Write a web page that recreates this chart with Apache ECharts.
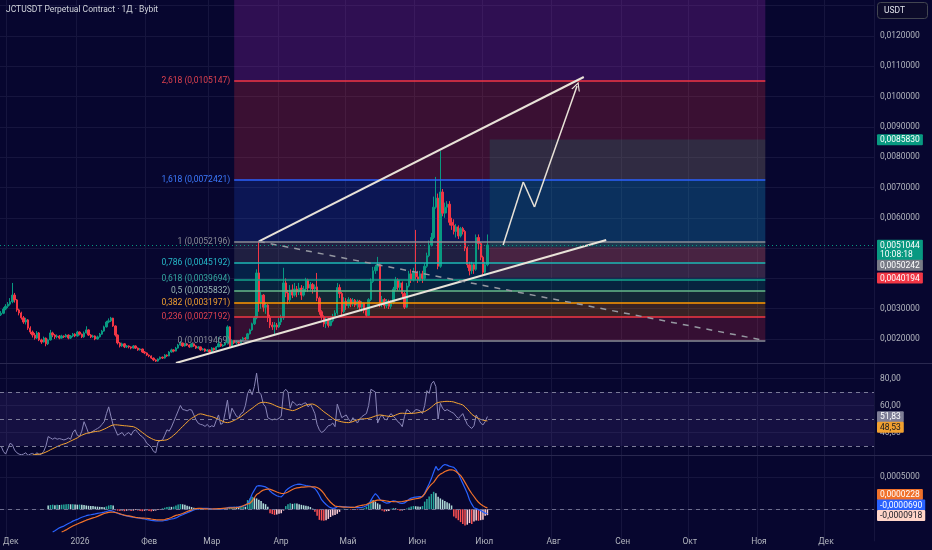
<!DOCTYPE html>
<html><head><meta charset="utf-8">
<script src="https://cdn.jsdelivr.net/npm/echarts@6/dist/echarts.min.js"></script>
<style>html,body{margin:0;padding:0;background:#07062f;}#c{width:932px;height:550px;}</style>
</head><body><div id="c"></div>
<script>
// ---- DATA (prices in micro-USDT, 1e-6) ----
const startDate = [2025, 10, 28]; // 2025-11-28
const dayCount = 390;
const opens = [
2800,2850,2990,3080,3150,3230,3450,3290,2960,2860,
2700,2560,2630,2360,2230,2130,2030,2200,1970,1900,
2030,1840,1970,2200,2130,2070,2100,2030,2100,2070,
2130,2030,2100,2160,2100,2230,2160,2070,2200,2300,
2130,2070,2100,2000,2070,2160,2260,2400,2560,2600,
2690,2430,2130,1870,1770,1840,1740,1770,1740,1700,
1770,1700,1640,1670,1570,1540,1470,1440,1370,1310,
1270,1340,1400,1370,1470,1440,1570,1640,1600,1700,
1800,1870,1770,1840,1800,1740,1840,1770,1700,1740,
1640,1670,1600,1640,1570,1700,1640,1740,1840,1770,
1800,1870,2400,1770,1950,1870,1900,1870,1970,2030,
2000,2170,2300,2500,2700,4180,3200,3450,3050,3120,
2700,2460,2400,2460,2400,2560,2700,3850,3520,3290,
3620,3450,3650,3550,3680,3450,3650,3950,3680,3800,
3650,3720,3350,2900,2730,2500,2650,2450,2600,2750,
2860,3700,3500,2900,3250,3100,3300,3150,3280,3120,
3250,3050,3180,2950,2780,3300,3900,4250,4380,4450,
3150,3300,3100,3250,3080,3200,3650,3950,3700,3850,
3500,3050,3750,4150,3950,4200,4050,3950,4150,4000,
4400,4750,5100,5350,6350,6650,4400,6850,6150,6350,
6450,5850,5750,5550,5700,5400,5650,5550,5000,4450,
4250,4450,4300,5350,5150,4700,4200,4450];
const closes = [
2850,2990,3080,3150,3230,3450,3290,2960,2860,2700,
2560,2630,2360,2230,2130,2030,2200,1970,1900,2030,
1840,1970,2200,2130,2070,2100,2030,2100,2070,2130,
2030,2100,2160,2100,2230,2160,2070,2200,2300,2130,
2070,2100,2000,2070,2160,2260,2400,2560,2600,2690,
2430,2130,1870,1770,1840,1740,1770,1740,1700,1770,
1700,1640,1670,1570,1540,1470,1440,1370,1310,1270,
1340,1400,1370,1470,1440,1570,1640,1600,1700,1800,
1870,1770,1840,1800,1740,1840,1770,1700,1740,1640,
1670,1600,1640,1570,1700,1640,1740,1840,1770,1800,
1870,2400,1770,1950,1870,1900,1870,1970,2030,2000,
2170,2300,2500,2700,4180,3200,3450,3050,3120,2700,
2460,2400,2460,2400,2560,2700,3850,3520,3290,3620,
3450,3650,3550,3680,3450,3650,3950,3680,3800,3650,
3720,3350,2900,2730,2500,2650,2450,2600,2750,2860,
3700,3500,2900,3250,3100,3300,3150,3280,3120,3250,
3050,3180,2950,2780,3300,3900,4250,4380,4450,3150,
3300,3100,3250,3080,3200,3650,3950,3700,3850,3500,
3050,3750,4150,3950,4200,4050,3950,4150,4000,4400,
4750,5100,5350,6350,6650,4400,6850,6150,6350,6450,
5850,5750,5550,5700,5400,5650,5550,5000,4450,4250,
4450,4300,5350,5150,4700,4200,4450,5104.4];
const lows = [
2760,2820,2950,3020,3100,3180,3200,2900,2780,2640,
2500,2480,2300,2160,2050,1980,2000,1930,1840,1880,
1760,1800,1950,2060,2000,2020,1990,2010,2030,2050,
1990,2000,2060,2060,2080,2120,2030,2040,2180,2100,
2030,2040,1960,1980,2050,2140,2240,2380,2520,2560,
2400,2080,1820,1720,1740,1700,1700,1690,1660,1680,
1670,1610,1620,1540,1500,1440,1400,1340,1270,1240,
1250,1320,1340,1350,1410,1430,1550,1560,1590,1680,
1780,1740,1750,1770,1710,1730,1740,1670,1680,1610,
1620,1570,1580,1540,1560,1610,1630,1730,1740,1740,
1780,1850,1720,1740,1830,1830,1820,1850,1940,1960,
1990,2150,2270,2460,2650,2900,3000,2900,2830,2560,
2360,2300,2130,2300,2360,2460,2630,3380,3150,3220,
3350,3400,3380,3450,3290,3400,3550,3550,3600,3500,
3550,3250,2800,2630,2400,2360,2380,2420,2550,2700,
2800,3350,2730,2850,2960,3020,3050,3080,3050,3000,
2950,2900,2850,2730,2760,3250,3850,4150,4250,3050,
3050,3000,3020,2990,3000,3150,3600,3600,3620,3350,
2990,3020,3700,3850,3900,3950,3850,3900,3850,3950,
4350,4700,5050,5300,6300,4300,4350,6050,6000,6150,
5750,5600,5450,5350,5300,5350,5450,4900,4350,4100,
4150,4150,4250,4950,4600,4100,4150,4400];
const highs = [
2920,3050,3150,3220,3350,3850,3520,3320,3000,2900,
2760,2700,2660,2420,2280,2200,2260,2230,2010,2080,
2050,2010,2300,2240,2160,2150,2130,2140,2120,2170,
2150,2130,2200,2190,2270,2250,2180,2250,2420,2320,
2160,2140,2120,2110,2200,2300,2440,2600,2680,2730,
2700,2450,2150,1900,1880,1860,1800,1790,1760,1800,
1790,1720,1700,1680,1600,1560,1490,1460,1390,1330,
1360,1420,1420,1500,1490,1600,1680,1660,1740,1840,
1930,1880,1870,1860,1820,1870,1850,1790,1770,1750,
1700,1690,1670,1650,1730,1710,1770,2060,1860,1830,
1900,2450,2420,1990,1970,1940,1930,2000,2070,2060,
2200,2340,2540,2760,4300,5220,3550,3480,3200,3150,
2800,2560,2560,2530,2700,2800,4350,4000,3620,3780,
3800,3850,3750,3850,3780,3750,4020,3990,3880,3850,
3800,4180,3400,2950,2780,2720,2700,2680,2830,2950,
3850,3800,3550,3380,3350,3380,3350,3350,3320,3300,
3290,3250,3200,3000,3350,4000,4380,4450,4710,4500,
3420,3350,3320,3300,3280,3720,4050,4000,3950,3900,
3550,3850,4250,4300,4350,5600,4250,4250,4250,4500,
4850,5250,5500,6700,7350,6800,8200,6950,6500,6550,
6550,6000,5950,5800,5750,5700,5700,5600,5050,4550,
4550,4500,5450,5450,5200,4750,4550,5450];

// RSI(14) and its MA
const rsi = [
30,26,24,28,32,31,27,25,24,23.5,
24,25,23,24,24.5,23.5,25,23.5,24,26,
30,37,36,35,36,35,35.5,35,34.5,35,
36,35,40,42,38,37,41,48,44,39.5,
40,41,42,43,44,46,48,54,59,52,
45.6,42,38,39,40,37.5,39,40,38,41,
42,40,38,36.9,35,32,30.7,29,26,25,
33,34,34.4,38,42,41,44,48,52,56,
60,57,56.7,56,57,56.7,53,49.3,46.8,46,
45.6,44.5,46,44,45,44.3,49,53,46,47,
55,64,50,58,55,52,51,54,55,60,
69,72,68,74,84,70,68,61,59,51,
50,49.3,50,49.5,50.5,52,70,72,70,58,
63,61.6,60,61,60.5,61.6,62,59,61,57.9,
54,46,42,40,41,43,45,45.5,47,44.3,
61,56,51,52,53,50,48,51,49,47,
50,51.8,53,54,60,72,71,70,47,51,
53,50,49.3,52,54,52,50.5,48,46.8,44.3,
52,57,56,54,55,57,56.7,56,54,60,
71,69,76,78,74,50,61.6,58,56,57,
56,55,54.2,52,50.5,52,54,50,46,44.3,
43,45,53,50,47,45.6,48,51.83];
const rsiMaStart = 14;
const rsiMa = [
23.3,23.5,23.8,24,24.3,24.8,
25.5,26.3,27.2,28,28.8,29.6,30.3,31,31.5,32,
32.8,33.6,34.4,35.2,36,37.2,38,38.7,39.3,39.7,
40,40.4,40.7,40.9,41.1,41.8,42.5,43.3,44.2,45,
45.6,45.7,45.6,45.4,45.2,45,44.9,44.7,44.5,44.3,
43.6,42.6,41.3,40,38.8,37.5,36.5,35.6,34.8,34.2,
34,34,34.1,34.3,34.6,35.5,36.6,38,39.4,41,
42.8,44.5,46,47.8,49.3,50.5,51.5,52.5,53.5,53.8,
53.5,53,52.5,52.2,51.8,51.2,50.5,49.8,49,48.2,
47.5,47.3,47.6,48.2,49,49.8,50.7,51.7,53,54.2,
55.5,56.8,57.9,59.2,60.5,61.6,62.2,62.4,62.3,62,
61.6,61,60.2,59.4,58.8,58.3,57.9,57.4,57,56.6,
56.2,56.5,57.2,58,58.8,59.6,60.3,60.8,61,61.1,
60.5,59.5,58.2,56.8,55.4,54.2,53,51.8,50.5,49.3,
48.8,48.3,47.9,47.6,47.4,47.3,47.6,48.1,48.8,49.4,
49.8,50,50.1,50.3,50.5,51,51.6,52.2,52.7,53,
52.8,52.5,52.2,52,51.8,52.3,52.9,53.6,54.2,54.3,
54.2,54,54.1,54.2,54.2,54.4,54.7,55,55.2,55.5,
56.5,57.5,58.8,60.2,61.6,62.2,62.6,62.8,63,63.1,
63,62.9,62.6,62,61.5,61,60.4,59,57.3,55.5,
53.5,52.3,51.2,50.4,49.7,49.2,48.8,48.53];

// MACD (micro units)
const macdStart = 23;
const macd = [
-355,-335,-312,-290,-275,-262,-240,
-222,-205,-185,-170,-158,-140,-125,-112,-100,-90,
-85,-78,-72,-65,-58,-52,-45,-35,-22,-20,
-30,-48,-62,-75,-85,-95,-103,-110,-118,-124,
-130,-135,-139,-145,-152,-160,-166,-172,-176,-180,
-182,-183,-180,-175,-168,-160,-152,-145,-135,-118,
-98,-85,-68,-55,-40,-25,-10,3,8,12,
14,15,14,10,6,3,2,4,2,5,
12,25,30,32,30,33,38,45,52,62,
85,150,240,300,360,370,365,358,350,330,
285,255,230,212,200,195,230,290,320,345,
365,380,388,392,388,380,372,365,360,345,
325,280,220,150,110,75,45,25,15,18,
40,48,42,38,40,36,32,30,28,26,
25,30,40,55,80,140,200,245,210,155,
130,110,95,100,120,134,130,110,95,92,
100,125,155,175,185,190,195,198,196,250,
330,400,480,580,670,610,640,680,700,690,
675,665,655,620,560,480,405,330,250,150,
80,25,10,-5,-20,-40,-60,-69];
const signalStart = 27;
const signal = [
-355,-340,-322,
-300,-280,-262,-245,-230,-215,-200,-185,-170,-158,
-145,-133,-124,-110,-95,-80,-66,-55,-48,-45,
-46,-50,-58,-70,-82,-92,-98,-103,-110,-118,
-125,-130,-134,-137,-139,-140,-145,-152,-158,-162,
-165,-166,-165,-160,-150,-140,-128,-110,-95,-88,
-78,-65,-50,-35,-20,-8,2,12,15,14,
10,7,6,5,5,6,7,10,12,15,
18,20,21,21,23,26,32,40,55,70,
85,93,130,180,230,250,280,300,310,314,
314,300,285,270,258,250,247,255,270,290,
310,325,335,340,345,348,350,352,352,350,
350,340,320,290,250,196,150,110,80,51,
45,40,38,35,33,32,31,31,35,45,
55,62,68,75,93,105,120,135,144,144,
140,135,130,125,122,120,118,118,118,122,
128,135,142,150,158,165,170,178,200,240,
300,350,390,420,470,520,550,566,590,605,
615,618,610,590,560,530,480,420,360,300,
247,200,150,110,80,55,35,22.8];
const histStart = 21;
const hist = [
60,67,72,65,70,67,72,75,78,
82,78,80,76,72,74,70,68,60,55,
52,50,45,42,38,35,31,45,60,67,
60,-15,-21,-25,-18,-30,-22,-15,-28,-20,
-12,-18,-25,-30,-22,-16,-28,-33,-25,-20,
-12,-8,15,25,35,41,38,42,60,75,
82,78,70,55,45,35,25,15,8,5,
3,-3,2,-2,3,-4,-2,5,-3,3,
8,20,30,35,41,38,35,41,45,40,
144,170,196,185,170,150,130,93,80,40,
-62,-75,-88,-80,-70,-60,-20,50,80,93,
85,93,90,80,70,62,55,48,35,10,
-40,-100,-165,-175,-180,-170,-150,-120,-95,-88,
-70,-40,5,8,-5,6,-8,4,-6,-10,
-5,8,15,40,100,144,140,120,93,75,
-20,-36,-30,-25,10,20,15,-10,-21,-18,
-10,12,30,45,51,48,42,40,50,120,
160,200,240,273,250,196,170,150,130,110,
93,60,-113,-140,-170,-200,-230,-252,-240,-215,
-230,-190,-175,-180,-170,-165,-100,-91.8];

const fibLevels = [0, 0.236, 0.382, 0.5, 0.618, 0.786, 1, 1.618, 2.618, 3.618];
const fibPrices = [1946.9, 2719.2, 3197.1, 3583.2, 3969.4, 4519.2, 5219.6, 7242.1, 10514.7, 13787.4];
const fibVisibleLines = 9; // 3.618 is above the visible range
const fibStartIdx = 104, fibEndIdx = 341;
// Long position tool
const posStartIdx = 218, posEndIdx = 341;
const posEntry = 5024.2, posTarget = 8583.0, posStop = 4019.4;
// Drawings: [dayIndex, price]
const upperLine = [[115, 5220], [260, 10647]];
const lowerLine = [[78, 1209], [270, 5268]];
const dashedLine = [[115, 5220], [341, 1947]];
const arrowPath = [[224, 5103], [233, 7182], [238, 6357], [257, 10350]];
const countdown = '10:08:18';
const titleText = 'JCTUSDT Perpetual Contract · 1Д · Bybit';
const ruMonths = ['Янв','Фев','Мар','Апр','Май','Июн','Июл','Авг','Сен','Окт','Ноя','Дек'];

// ---- STYLE ----
const FONT = 'Roboto, "DejaVu Sans", sans-serif';
const FS = 8.5;
const BG = '#07062f';
const AXIS_TXT = '#b2b5be';
const GRIDC = '#16153e';
const fibLine = ['#8a8d96','#f23645','#ff9800','#66bb8a','#14a58c','#1cb8b4','#8a8d96','#2962ff','#f23645','#9c27b0'];
const fibLabel = ['#8a8d96','#e0424f','#f0a030','#9ab8b4','#34a7a0','#26b8c8','#8a8d96','#3d7bff','#e0424f','#9c27b0'];
const fibFill = [null,'rgba(242,54,69,0.2)','rgba(255,152,0,0.2)','rgba(76,175,80,0.2)','rgba(8,153,129,0.2)',
  'rgba(0,188,212,0.15)','rgba(120,123,134,0.22)','rgba(41,98,255,0.18)','rgba(242,54,69,0.22)','rgba(156,39,176,0.27)'];
const DRAW = '#e8e2d8';

// ---- BUILD ----
const cats = [];
const d0 = Date.UTC(startDate[0], startDate[1], startDate[2]);
for (let k = 0; k < dayCount; k++) cats.push(new Date(d0 + k * 86400000).toISOString().slice(0, 10));
const isMonthStart = (i, v) => v.slice(8) === '01';
const pad = (start, arr) => new Array(start).fill(null).concat(arr);
const fmtP = v => (v / 1e6).toFixed(7).replace('.', ',');
const fmtLevel = l => String(l).replace('.', ',');

const candles = opens.map((o, i) => [o, closes[i], lows[i], highs[i]]);

const areas = [];
for (let k = 0; k < fibPrices.length - 1; k++) {
  areas.push([{xAxis: cats[fibStartIdx], yAxis: fibPrices[k], itemStyle: {color: fibFill[k + 1]}},
              {xAxis: cats[fibEndIdx], yAxis: fibPrices[k + 1]}]);
}
areas.push([{xAxis: cats[posStartIdx], yAxis: posEntry, itemStyle: {color: 'rgba(8,153,129,0.2)'}},
            {xAxis: cats[posEndIdx], yAxis: posTarget}]);
areas.push([{xAxis: cats[posStartIdx], yAxis: posStop, itemStyle: {color: 'rgba(242,54,69,0.2)'}},
            {xAxis: cats[posEndIdx], yAxis: posEntry}]);

const lines = [];
fibPrices.slice(0, fibVisibleLines).forEach((p, k) => {
  lines.push([{coord: [cats[fibStartIdx], p], lineStyle: {color: fibLine[k], width: 1.5, type: 'solid'},
    label: {show: true, position: 'start', distance: 4, color: fibLabel[k], fontSize: FS, fontFamily: FONT,
      formatter: fmtLevel(fibLevels[k]) + ' (' + fmtP(p) + ')'}},
    {coord: [cats[fibEndIdx], p]}]);
});
const seg = (a, b, style, sym) => [{coord: [cats[a[0]], a[1]], lineStyle: style, symbol: 'none'},
  {coord: [cats[b[0]], b[1]], symbol: sym || 'none', symbolSize: [9, 9]}];
lines.push(seg(upperLine[0], upperLine[1], {color: DRAW, width: 2, type: 'solid'}));
lines.push(seg(lowerLine[0], lowerLine[1], {color: DRAW, width: 2, type: 'solid'}));
lines.push(seg(dashedLine[0], dashedLine[1], {color: '#9598a1', width: 1.5, type: [6, 6]}));
for (let k = 0; k < arrowPath.length - 1; k++) {
  const last = k === arrowPath.length - 2;
  lines.push(seg(arrowPath[k], arrowPath[k + 1], {color: DRAW, width: 1.5, type: 'solid'},
    last ? 'path://M0,10 L5,0 L10,10 L8.6,10 L5,2.8 L1.4,10 Z' : 'none'));
}
lines.push({yAxis: closes[closes.length - 1], lineStyle: {color: '#089981', width: 1, type: [1, 3]}, symbol: 'none'});

const histColor = p => {
  const i = p.dataIndex, v = p.value, prev = i > 0 ? hist[i - histStart - 1] : null;
  const pv = prev == null ? v : prev;
  if (v >= 0) return pv < v ? '#26a69a' : '#b2dfdb';
  return pv < v ? '#ffcdd2' : '#ff5252';
};

const chart = echarts.init(document.getElementById('c'), null, {width: 932, height: 550});
const xAxes = [0, 1, 2, 3].map(k => ({
  type: 'category', data: cats, gridIndex: k, boundaryGap: true,
  axisLine: {show: false}, axisTick: {show: false}, axisPointer: {show: false},
  axisLabel: k === 3 ? {show: true, interval: isMonthStart, color: AXIS_TXT, fontSize: FS, fontFamily: FONT, margin: 5,
    formatter: v => { const m = +v.slice(5, 7); return m === 1 ? v.slice(0, 4) : ruMonths[m - 1]; }} : {show: false},
  splitLine: k === 3 ? {show: false} : {show: true, interval: isMonthStart, lineStyle: {color: GRIDC, width: 1}}
}));
const yBase = {type: 'value', position: 'right', axisLine: {show: false}, axisTick: {show: false},
  splitLine: {show: true, showMinLine: false, showMaxLine: false, lineStyle: {color: GRIDC, width: 1}}};
const lblBase = {color: AXIS_TXT, fontSize: FS, fontFamily: FONT, margin: 6, showMinLabel: false, showMaxLabel: false};

chart.setOption({
  backgroundColor: BG,
  animation: false,
  textStyle: {fontFamily: FONT},
  grid: [
    {left: 0, right: 58, top: 0, height: 369.3},
    {left: 0, right: 58, top: 363, height: 96.5},
    {left: 0, right: 58, top: 455, height: 86.3},
    {left: 0, right: 58, top: 531, height: 1}
  ],
  xAxis: xAxes,
  yAxis: [
    Object.assign({}, yBase, {gridIndex: 0, min: 1000, max: 13188.1, interval: 1000,
      axisLabel: Object.assign({}, lblBase, {formatter: v => v > 12500 ? '' : fmtP(v)})}),
    Object.assign({}, yBase, {gridIndex: 1, min: 20, max: 91.48, interval: 20,
      axisLabel: Object.assign({}, lblBase, {formatter: v => v.toFixed(2).replace('.', ',')})}),
    Object.assign({}, yBase, {gridIndex: 2, min: -500, max: 848.4, interval: 500,
      axisLabel: Object.assign({}, lblBase, {formatter: v => fmtP(v)})}),
    {type: 'value', gridIndex: 3, show: false, min: 0, max: 1}
  ],
  series: [
    {type: 'candlestick', xAxisIndex: 0, yAxisIndex: 0, data: candles, barWidth: 1.9,
      itemStyle: {color: '#089981', color0: '#f23645', borderColor: '#089981', borderColor0: '#f23645', borderWidth: 1},
      markArea: {silent: true, data: areas, itemStyle: {borderWidth: 0}, label: {show: false}},
      markLine: {silent: true, symbol: 'none', animation: false, label: {show: false}, data: lines}
    },
    {type: 'line', name: 'RSI', xAxisIndex: 1, yAxisIndex: 1, data: rsi, showSymbol: false, symbol: 'none',
      lineStyle: {color: '#8a86b8', width: 1}, z: 3,
      markArea: {silent: true, itemStyle: {color: 'rgba(126,87,194,0.12)'}, data: [[{yAxis: 30}, {yAxis: 70}]]},
      markLine: {silent: true, symbol: 'none', label: {show: false},
        lineStyle: {color: '#7b7b98', type: [4, 4], width: 1}, data: [{yAxis: 70}, {yAxis: 50}, {yAxis: 30}]}
    },
    {type: 'line', name: 'RSI MA', xAxisIndex: 1, yAxisIndex: 1, data: pad(rsiMaStart, rsiMa), showSymbol: false,
      symbol: 'none', lineStyle: {color: '#f4a432', width: 1}, z: 4},
    {type: 'bar', name: 'Hist', xAxisIndex: 2, yAxisIndex: 2, data: pad(histStart, hist), barWidth: 1.5,
      itemStyle: {color: histColor},
      markLine: {silent: true, symbol: 'none', label: {show: false},
        lineStyle: {color: '#6e6e8e', type: [4, 4], width: 1}, data: [{yAxis: 0}]}
    },
    {type: 'line', name: 'MACD', xAxisIndex: 2, yAxisIndex: 2, data: pad(macdStart, macd), showSymbol: false,
      symbol: 'none', lineStyle: {color: '#2962ff', width: 1.2}, z: 4},
    {type: 'line', name: 'Signal', xAxisIndex: 2, yAxisIndex: 2, data: pad(signalStart, signal), showSymbol: false,
      symbol: 'none', lineStyle: {color: '#f0712a', width: 1.2}, z: 4},
    {type: 'line', xAxisIndex: 3, yAxisIndex: 3, data: []}
  ]
});

// ---- right-axis value tags ----
const TAG_X = 877, H1 = 10.5;
function tagList(axisIdx, items, mode) {
  items.forEach(t => { t.y = chart.convertToPixel({yAxisIndex: axisIdx}, t.v); t.h = t.lines * (H1 - 1) + 1; });
  const arr = items.slice().sort((a, b) => a.y - b.y);
  if (mode === 'down') {
    let prev = -Infinity;
    arr.forEach(t => { let top = t.y - H1 / 2; if (top < prev) top = prev; t.top = top; prev = top + t.h; });
  } else {
    let next = Infinity;
    for (let k = arr.length - 1; k >= 0; k--) {
      const t = arr[k]; let bottom = t.y - H1 / 2 + t.h; if (bottom > next) bottom = next; t.top = bottom - t.h; next = t.top;
    }
  }
  return items.map(t => ({
    type: 'text', z: 100, x: TAG_X, y: t.top,
    style: {text: t.text, fill: t.fg || '#ffffff', backgroundColor: t.bg, font: 'normal ' + FS + 'px ' + FONT,
      padding: [1.25, 3, 0.25, 3], lineHeight: H1 - 1, verticalAlign: 'top', align: 'left', borderRadius: 1}
  }));
}
const last = a => a[a.length - 1];
const graphics = [];
graphics.push(...tagList(0, [
  {v: posTarget, text: fmtP(posTarget), bg: '#089981', lines: 1},
  {v: last(closes), text: fmtP(last(closes)) + '\n' + countdown, bg: '#089981', lines: 2},
  {v: posEntry, text: fmtP(posEntry), bg: '#787b86', lines: 1},
  {v: posStop, text: fmtP(posStop), bg: '#f23645', lines: 1}
], 'down'));
graphics.push(...tagList(1, [
  {v: last(rsi), text: last(rsi).toFixed(2).replace('.', ','), bg: '#7e7e96', lines: 1},
  {v: last(rsiMa), text: last(rsiMa).toFixed(2).replace('.', ','), bg: '#f0a030', fg: '#131722', lines: 1}
], 'down'));
graphics.push(...tagList(2, [
  {v: last(signal), text: fmtP(last(signal)), bg: '#f0712a', lines: 1},
  {v: last(macd), text: fmtP(last(macd)), bg: '#2962ff', lines: 1},
  {v: last(hist), text: fmtP(last(hist)), bg: '#ffd5c8', fg: '#131722', lines: 1}
], 'up'));
// pane separators
[363.5, 455.5].forEach(y => graphics.push({type: 'line', z: 90, shape: {x1: 0, y1: y, x2: 932, y2: y},
  style: {stroke: '#29284f', lineWidth: 1}}));
// title & currency box
graphics.push({type: 'text', z: 100, x: 6, y: 10, style: {text: titleText, fill: '#d1d4dc',
  font: 'normal ' + FS + 'px ' + FONT, verticalAlign: 'middle', align: 'left'}});
graphics.push({type: 'rect', z: 100, shape: {x: 877.5, y: 2.5, width: 50, height: 16, r: 3},
  style: {fill: '#0c0b2a', stroke: '#434651', lineWidth: 1}});
graphics.push({type: 'text', z: 101, x: 884, y: 10.5, style: {text: 'USDT', fill: '#e0e3eb',
  font: 'normal ' + FS + 'px ' + FONT, verticalAlign: 'middle', align: 'left'}});
chart.setOption({graphic: {elements: graphics}});
</script></body></html>
